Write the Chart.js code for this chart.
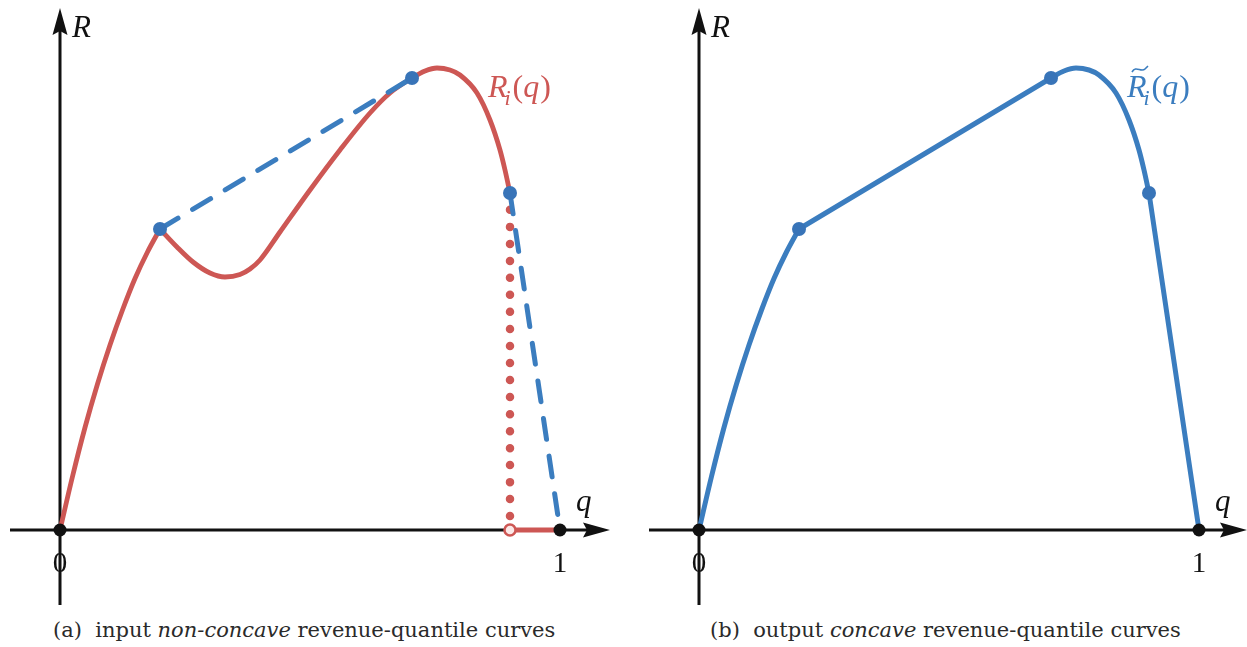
<!DOCTYPE html>
<html>
<head>
<meta charset="utf-8">
<script src="https://cdn.jsdelivr.net/npm/chart.js@4.4.0/dist/chart.umd.min.js"></script>
<style>
  html, body { margin: 0; padding: 0; background: #fff; overflow: hidden; }
  #wrap { position: relative; width: 1247px; height: 647px; }
  canvas { position: absolute; top: 0; }
  #left { left: 0; }
  #right { left: 639px; }
  .cap { position: absolute; top: 617px; font-family: "DejaVu Serif", serif; font-size: 21px; color: #2a2a2a; white-space: pre; line-height: 26px; }
  #capA { left: 53px; }
  #capB { left: 710px; }
</style>
</head>
<body>
<div id="wrap">
  <canvas id="left" width="624" height="610"></canvas>
  <canvas id="right" width="608" height="610"></canvas>
  <div class="cap" id="capA">(a)  input <i>non-concave</i> revenue-quantile curves</div>
  <div class="cap" id="capB">(b)  output <i>concave</i> revenue-quantile curves</div>
</div>
<script>
// ---------------------------------------------------------------------------
// data (q = quantile, R = revenue)
// ---------------------------------------------------------------------------

// concave rise from the origin to the first kink (same in both panels)
const riseQ = [0, 0.025, 0.05, 0.075, 0.1, 0.125, 0.15, 0.175, 0.2];
const riseR = [0, 0.107, 0.205, 0.292, 0.37, 0.44, 0.503, 0.556, 0.602];

// non-concave part of R_i (dip, then climb up to the peak region)
const dipQ = [0.2, 0.234, 0.266, 0.3, 0.33, 0.36, 0.38, 0.4, 0.44, 0.5, 0.56, 0.62, 0.66];
const dipR = [0.602, 0.566, 0.536, 0.514, 0.506, 0.511, 0.522, 0.54, 0.596, 0.68, 0.76, 0.834, 0.874];

// cap around the peak (shared by both curves)
const capQ = [0.704, 0.73, 0.754, 0.78, 0.8, 0.834, 0.86, 0.88, 0.89, 0.9];
const capR = [0.904, 0.918, 0.924, 0.92, 0.91, 0.874, 0.82, 0.76, 0.72, 0.674];

// straight hull pieces
const hullQ = [0.2, 0.704];
const hullR = [0.602, 0.904];
const dropQ = [0.9, 1];
const dropR = [0.674, 0];

// jump of R_i down to zero, then flat to q = 1
const jumpQ = [0.9, 0.9];
const jumpR = [0.674, 0];
const flatQ = [0.9, 1];
const flatR = [0, 0];

// marked points
const kinkQ = [0.2, 0.704, 0.9];
const kinkR = [0.602, 0.904, 0.674];
const endQ = [0, 1];
const endR = [0, 0];
const openQ = [0.9];
const openR = [0];

const tickVals = [0, 1];
const tickLabels = ['0', '1'];

const RED = '#cd5754';
const BLUE = '#3b7dbf';
const DOT_BLUE = '#3874b8';
const INK = '#111';

const pts = (qs, rs) => qs.map((q, i) => ({ x: q, y: rs[i] }));

function curve(qs, rs, color, extra) {
  return Object.assign({
    data: pts(qs, rs), showLine: true, borderColor: color, borderWidth: 4.8,
    pointRadius: 0, cubicInterpolationMode: 'monotone', clip: false
  }, extra || {});
}

function dots(qs, rs, color, extra) {
  return Object.assign({
    data: pts(qs, rs), showLine: false, pointRadius: 7, pointHoverRadius: 7,
    backgroundColor: color, borderColor: color, borderWidth: 0, clip: false
  }, extra || {});
}

// ---------------------------------------------------------------------------
// axes with arrows, tick labels and curve label
// ---------------------------------------------------------------------------

function arrowHead(ctx, tx, ty, dx, dy) {
  const len = 27, half = 7.5, back = 4;
  const bx = tx - dx * len, by = ty - dy * len;
  const nx = -dy, ny = dx;
  ctx.beginPath();
  ctx.moveTo(tx, ty);
  ctx.lineTo(bx + nx * half, by + ny * half);
  ctx.lineTo(bx + dx * back, by + dy * back);
  ctx.lineTo(bx - nx * half, by - ny * half);
  ctx.closePath();
  ctx.fill();
}

const axesPlugin = {
  id: 'axes',
  beforeDatasetsDraw(chart) {
    const { ctx, scales: { x, y } } = chart;
    const x0 = x.getPixelForValue(0), y0 = y.getPixelForValue(0);
    const xr = x.getPixelForValue(x.max), xl = x.getPixelForValue(x.min);
    const yt = y.getPixelForValue(y.max), yb = y.getPixelForValue(y.min);
    ctx.save();
    ctx.strokeStyle = INK;
    ctx.fillStyle = INK;
    ctx.lineWidth = 3;
    ctx.beginPath();
    ctx.moveTo(xl, y0); ctx.lineTo(xr - 22, y0);
    ctx.moveTo(x0, yb); ctx.lineTo(x0, yt + 22);
    ctx.stroke();
    arrowHead(ctx, xr, y0, 1, 0);
    arrowHead(ctx, x0, yt, 0, -1);

    // tick labels
    ctx.font = '29px "Liberation Serif", serif';
    ctx.textAlign = 'center';
    ctx.textBaseline = 'alphabetic';
    tickVals.forEach((v, i) => {
      ctx.fillText(tickLabels[i], x.getPixelForValue(v), y0 + 42);
    });

    // axis names
    ctx.textAlign = 'left';
    ctx.font = 'italic 31px "Liberation Serif", serif';
    ctx.fillText('R', x0 + 12, yt + 29);
    ctx.fillText('q', x.getPixelForValue(1) + 16, y0 - 19);
    ctx.restore();
  },
  afterDatasetsDraw(chart, args, opts) {
    const { ctx, scales: { x, y } } = chart;
    const lx = x.getPixelForValue(opts.labelQ), ly = y.getPixelForValue(opts.labelR);
    ctx.save();
    ctx.fillStyle = opts.color;
    ctx.strokeStyle = opts.color;
    ctx.textBaseline = 'alphabetic';
    ctx.textAlign = 'left';
    ctx.font = 'italic 32px "Liberation Serif", serif';
    ctx.fillText('R', lx, ly);
    const wR = ctx.measureText('R').width;
    if (opts.tilde) {
      ctx.lineWidth = 1.6;
      ctx.beginPath();
      ctx.moveTo(lx + 5, ly - 25);
      ctx.bezierCurveTo(lx + 9, ly - 32, lx + 14, ly - 24, lx + 18, ly - 28);
      ctx.bezierCurveTo(lx + 19, ly - 29, lx + 20, ly - 30, lx + 21, ly - 31);
      ctx.stroke();
    }
    ctx.font = 'italic 22px "Liberation Serif", serif';
    ctx.fillText('i', lx + wR - 3, ly + 8);
    let cx = lx + wR + 5;
    ctx.font = '32px "Liberation Serif", serif';
    ctx.fillText('(', cx, ly);
    cx += ctx.measureText('(').width;
    ctx.font = 'italic 32px "Liberation Serif", serif';
    ctx.fillText('q', cx, ly);
    cx += ctx.measureText('q').width + 1;
    ctx.font = '32px "Liberation Serif", serif';
    ctx.fillText(')', cx, ly);
    ctx.restore();
  }
};

function baseOptions(padding, xMax, label) {
  return {
    responsive: false,
    devicePixelRatio: 1,
    animation: false,
    events: [],
    layout: { padding, autoPadding: false },
    scales: {
      x: { type: 'linear', min: -0.1, max: xMax, display: false },
      y: { type: 'linear', min: -0.15, max: 1.044, display: false }
    },
    plugins: { legend: { display: false }, tooltip: { enabled: false }, axes: label }
  };
}

// (a) input non-concave curve -------------------------------------------------
new Chart(document.getElementById('left'), {
  type: 'scatter',
  data: {
    datasets: [
      dots(endQ, endR, INK, { pointRadius: 6.5 }),
      dots(openQ, openR, RED, { pointRadius: 5.5, backgroundColor: '#fbe8e7', borderWidth: 2.5 }),
      dots(kinkQ, kinkR, DOT_BLUE),
      curve(hullQ, hullR, BLUE, { borderDash: [21, 17], borderCapStyle: 'round', borderWidth: 5, tension: 0 }),
      curve(dropQ, dropR, BLUE, { borderDash: [21, 17], borderCapStyle: 'round', borderWidth: 5, tension: 0 }),
      curve(jumpQ, jumpR, RED, { borderDash: [0, 17], borderCapStyle: 'round', borderWidth: 8.5, tension: 0 }),
      curve(flatQ, flatR, RED, { tension: 0 }),
      curve(riseQ, riseR, RED),
      curve(dipQ.concat(capQ), dipR.concat(capR), RED)
    ]
  },
  options: baseOptions({ left: 10, right: 14, top: 8, bottom: 5 }, 1.1,
    { labelQ: 0.856, labelR: 0.866, color: RED, tilde: false }),
  plugins: [axesPlugin]
});

// (b) output concave curve ---------------------------------------------------
new Chart(document.getElementById('right'), {
  type: 'scatter',
  data: {
    datasets: [
      dots(endQ, endR, INK, { pointRadius: 6.5 }),
      dots(kinkQ, kinkR, DOT_BLUE),
      curve(riseQ, riseR, BLUE, { borderWidth: 5 }),
      curve(hullQ, hullR, BLUE, { borderWidth: 5, tension: 0 }),
      curve(capQ, capR, BLUE, { borderWidth: 5 }),
      curve(dropQ, dropR, BLUE, { borderWidth: 5, tension: 0 })
    ]
  },
  options: baseOptions({ left: 10, right: 0, top: 8, bottom: 5 }, 1.096,
    { labelQ: 0.856, labelR: 0.866, color: BLUE, tilde: true }),
  plugins: [axesPlugin]
});
</script>
</body>
</html>
